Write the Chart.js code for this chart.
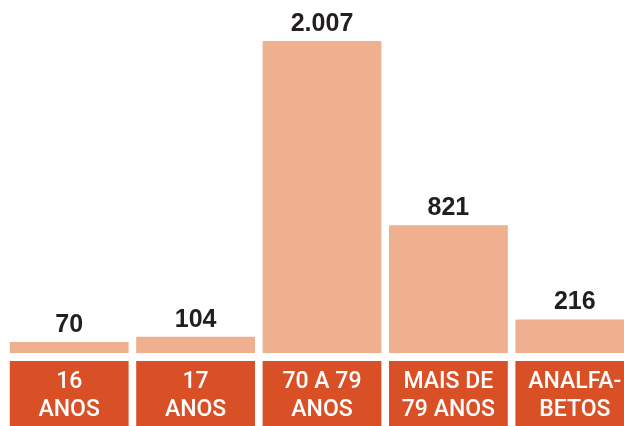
<!DOCTYPE html>
<html>
<head>
<meta charset="utf-8">
<script src="https://cdn.jsdelivr.net/npm/chart.js@4/dist/chart.umd.min.js"></script>
<style>
    html, body { margin: 0; padding: 0; background: #ffffff; overflow: hidden; }
    #wrap { width: 624px; height: 426px; overflow: hidden; }
</style>
</head>
<body>
<div id="wrap">
    <canvas id="graph" width="644" height="426"></canvas>
</div>
<script>
const categories = [
    ['16', 'ANOS'],
    ['17', 'ANOS'],
    ['70 A 79', 'ANOS'],
    ['MAIS DE', '79 ANOS'],
    ['ANALFA-', 'BETOS']
];
const voters = [70, 104, 2007, 821, 216];

const barColor = '#EEB08F';
const boxColor = '#DA5026';

function formatPt(n) {
    return String(n).replace(/\B(?=(\d{3})+(?!\d))/g, '.');
}

// orange boxes behind the category labels
const labelBoxes = {
    id: 'labelBoxes',
    beforeDraw(chart) {
        const ctx = chart.ctx;
        const meta = chart.getDatasetMeta(0);
        const top = chart.chartArea.bottom + 8;
        ctx.save();
        ctx.fillStyle = boxColor;
        meta.data.forEach(bar => {
            ctx.fillRect(bar.x - bar.width / 2, top, bar.width, chart.height - top);
        });
        ctx.restore();
    }
};

// numbers above the bars
const valueLabels = {
    id: 'valueLabels',
    afterDatasetsDraw(chart) {
        const ctx = chart.ctx;
        const meta = chart.getDatasetMeta(0);
        ctx.save();
        ctx.fillStyle = '#231F20';
        ctx.font = 'bold 25px "Liberation Sans Narrow", "Liberation Sans", sans-serif';
        ctx.textAlign = 'center';
        ctx.textBaseline = 'alphabetic';
        meta.data.forEach((bar, i) => {
            ctx.fillText(formatPt(voters[i]), bar.x, bar.y - 10);
        });
        ctx.restore();
    }
};

new Chart(document.getElementById('graph').getContext('2d'), {
    type: 'bar',
    data: {
        labels: categories,
        datasets: [{
            data: voters,
            backgroundColor: barColor,
            borderWidth: 0,
            barPercentage: 0.94,
            categoryPercentage: 1
        }]
    },
    options: {
        responsive: false,
        animation: false,
        layout: {
            padding: { top: 41, left: 6, right: 6, bottom: 0 }
        },
        scales: {
            x: {
                grid: { display: false, drawTicks: false },
                border: { display: false },
                afterFit: function(scale) { scale.height = 73; },
                ticks: {
                    color: '#ffffff',
                    padding: 15,
                    maxRotation: 0,
                    autoSkip: false,
                    font: { family: 'Roboto', size: 23, weight: '500', lineHeight: 1.22 }
                }
            },
            y: {
                display: false,
                min: 0,
                max: Math.max(...voters)
            }
        },
        plugins: {
            legend: { display: false },
            tooltip: { enabled: false }
        }
    },
    plugins: [labelBoxes, valueLabels]
});
</script>
</body>
</html>
